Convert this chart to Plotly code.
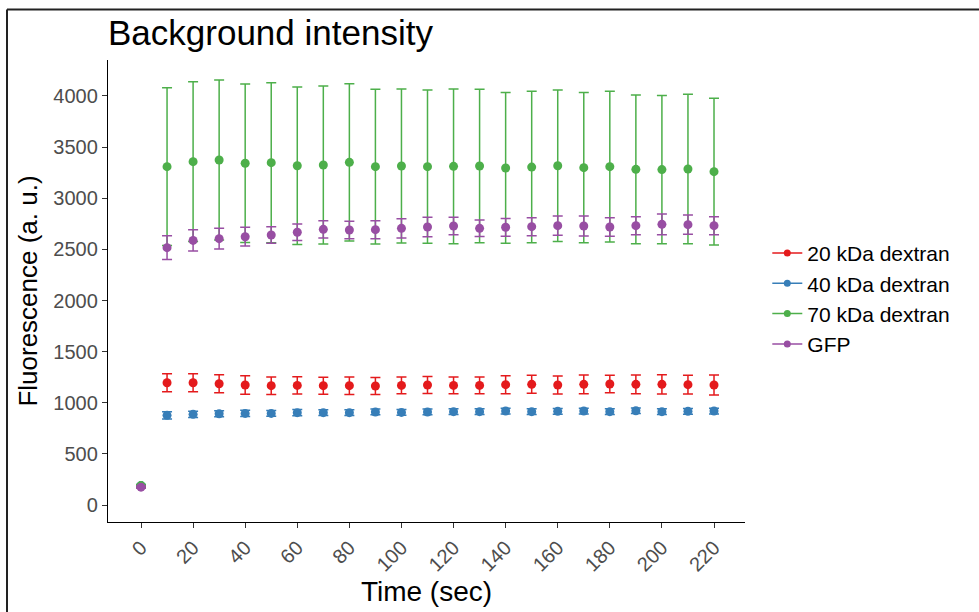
import plotly.graph_objects as go

time = [0, 10, 20, 30, 40, 50, 60, 70, 80, 90, 100, 110, 120, 130, 140, 150, 160, 170, 180, 190, 200, 210, 220]

red_mean = [185, 1196, 1196, 1186, 1174, 1167, 1170, 1167, 1167, 1164, 1170, 1174, 1170, 1170, 1177, 1180, 1174, 1180, 1183, 1180, 1180, 1177, 1174]
red_err = [10, 88, 88, 88, 91, 85, 85, 83, 85, 83, 83, 83, 83, 83, 88, 88, 88, 91, 86, 91, 95, 91, 98]

blue_mean = [190, 877, 887, 893, 896, 896, 903, 903, 903, 910, 906, 910, 913, 913, 919, 913, 916, 919, 913, 922, 913, 916, 919]
blue_err = [10, 35, 30, 30, 30, 28, 30, 28, 28, 28, 28, 28, 28, 28, 28, 28, 28, 28, 28, 28, 28, 28, 28]

green_mean = [190, 3309, 3358, 3374, 3342, 3348, 3318, 3325, 3351, 3309, 3315, 3309, 3312, 3315, 3296, 3305, 3318, 3299, 3309, 3283, 3280, 3286, 3260]
green_err = [10, 772, 782, 782, 775, 782, 770, 773, 769, 756, 753, 750, 756, 750, 737, 741, 741, 734, 737, 727, 726, 730, 717]

purple_mean = [175, 2517, 2588, 2605, 2624, 2641, 2667, 2696, 2689, 2693, 2706, 2719, 2729, 2706, 2716, 2722, 2732, 2729, 2719, 2732, 2745, 2742, 2732]
purple_err = [10, 117, 105, 101, 92, 81, 81, 85, 85, 88, 94, 95, 85, 81, 87, 88, 94, 97, 91, 88, 101, 94, 88]

series_names = ["20 kDa dextran", "40 kDa dextran", "70 kDa dextran", "GFP"]
series_means = [red_mean, blue_mean, green_mean, purple_mean]
series_errs = [red_err, blue_err, green_err, purple_err]
colors = ["#E41A1C", "#377EB8", "#4DAF4A", "#984EA3"]

x_ticks = list(range(0, 221, 20))
y_ticks = list(range(0, 4001, 500))

FONT = "Liberation Sans, Arial, sans-serif"

fig = go.Figure()
for name, m, e, c in zip(series_names, series_means, series_errs, colors):
    fig.add_trace(go.Scatter(
        x=time, y=m, mode="markers", name=name, showlegend=False,
        marker=dict(color=c, size=9),
        error_y=dict(type="data", array=e, visible=True, color=c, thickness=1.5, width=5),
    ))
for name, c in zip(series_names, colors):
    fig.add_trace(go.Scatter(
        x=[None], y=[None], mode="lines+markers", name=name,
        line=dict(color=c, width=1.5), marker=dict(color=c, size=7),
    ))

fig.update_layout(
    width=979, height=612,
    margin=dict(l=108, r=234, t=60, b=90),
    paper_bgcolor="white", plot_bgcolor="white",
    font=dict(family=FONT, color="black"),
    title=dict(text="Background intensity", x=108/979, xanchor="left", xref="container",
               y=1 - 33/612, yanchor="middle", yref="container",
               font=dict(size=35, color="black", family=FONT)),
    legend=dict(x=1.035, xanchor="left", y=0.483, yanchor="middle",
                font=dict(size=21, color="black", family=FONT),
                bgcolor="rgba(0,0,0,0)", itemwidth=30, tracegroupgap=0),
    showlegend=True,
)
fig.update_xaxes(
    range=[-12.67, 231.9], tickvals=x_ticks, ticktext=[str(v) for v in x_ticks],
    tickangle=-45, tickfont=dict(size=20, color="#4D4D4D"),
    showgrid=False, zeroline=False, showline=True, linecolor="black", linewidth=1.3,
    ticks="outside", ticklen=5, tickcolor="#333333", tickwidth=1.2,
    title=dict(text="Time (sec)", font=dict(size=28, color="black"), standoff=4),
)
fig.update_yaxes(
    range=[-166, 4352], tickvals=y_ticks, ticktext=[str(v) for v in y_ticks],
    tickfont=dict(size=20, color="#4D4D4D"),
    showgrid=False, zeroline=False, showline=True, linecolor="black", linewidth=1.3,
    ticks="outside", ticklen=5, tickcolor="#333333", tickwidth=1.2,
    title=dict(text="Fluorescence (a. u.)", font=dict(size=26, color="black"), standoff=8),
)

# image frame lines (top and left)
fx = (7 - 108) / 637
fy = (522 - 9.5) / 462
fig.add_shape(type="line", xref="paper", yref="paper", x0=fx, x1=2.0, y0=fy, y1=fy,
              line=dict(color="#222222", width=2))
fig.add_shape(type="line", xref="paper", yref="paper", x0=fx, x1=fx, y0=fy, y1=-1.0,
              line=dict(color="#222222", width=2))

fig.write_html("out.html")
